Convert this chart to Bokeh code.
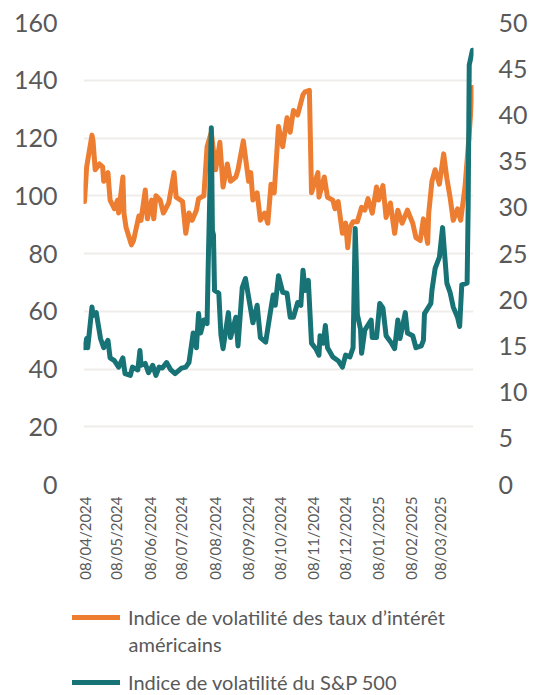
import math
import pandas as pd
from bokeh.plotting import figure
from bokeh.layouts import column
from bokeh.models import (Range1d, LinearAxis, FixedTicker, CustomJSTickFormatter,
                          Legend, LegendItem, Label, ColumnDataSource)
from bokeh.embed import file_html
from bokeh.resources import INLINE

# ---------------- data ----------------
move_dates = [
    "2024-04-08", "2024-04-10", "2024-04-15", "2024-04-16", "2024-04-18", "2024-04-22",
    "2024-04-25", "2024-04-26", "2024-04-30", "2024-05-01", "2024-05-02", "2024-05-06",
    "2024-05-09", "2024-05-10", "2024-05-14", "2024-05-15", "2024-05-17", "2024-05-22",
    "2024-05-24", "2024-05-29", "2024-05-31", "2024-06-04", "2024-06-06", "2024-06-10",
    "2024-06-12", "2024-06-14", "2024-06-18", "2024-06-21", "2024-06-26", "2024-07-01",
    "2024-07-03", "2024-07-09", "2024-07-12", "2024-07-15", "2024-07-18", "2024-07-22",
    "2024-07-24", "2024-07-29", "2024-08-01", "2024-08-05", "2024-08-09", "2024-08-13",
    "2024-08-16", "2024-08-20", "2024-08-23", "2024-08-28", "2024-08-30", "2024-09-04",
    "2024-09-09", "2024-09-11", "2024-09-13", "2024-09-17", "2024-09-20", "2024-09-24",
    "2024-09-27", "2024-09-30", "2024-10-03", "2024-10-07", "2024-10-11", "2024-10-15",
    "2024-10-18", "2024-10-21", "2024-10-25", "2024-10-30", "2024-11-01", "2024-11-05",
    "2024-11-07", "2024-11-13", "2024-11-14", "2024-11-19", "2024-11-22", "2024-11-27",
    "2024-11-29", "2024-12-02", "2024-12-06", "2024-12-09", "2024-12-11", "2024-12-13",
    "2024-12-16", "2024-12-20", "2024-12-24", "2024-12-27", "2024-12-30", "2025-01-03",
    "2025-01-07", "2025-01-09", "2025-01-13", "2025-01-16", "2025-01-20", "2025-01-24",
    "2025-01-27", "2025-01-31", "2025-02-05", "2025-02-10", "2025-02-13", "2025-02-17",
    "2025-02-20", "2025-02-24", "2025-02-25", "2025-02-28", "2025-03-03", "2025-03-07",
    "2025-03-11", "2025-03-14", "2025-03-17", "2025-03-20", "2025-03-24", "2025-03-27",
    "2025-03-31", "2025-04-04", "2025-04-07",
]
move_values = [
    98, 110, 121, 119, 109, 111,
    110, 105, 108, 103, 98.5, 95.5,
    98.5, 94, 106.5, 94, 89, 83,
    84.5, 93, 91.5, 102, 92, 98.5,
    92, 100, 98.5, 94, 97.5, 108,
    99.5, 98, 87, 94, 91.5, 95,
    99, 100, 117, 122, 109, 118.5,
    103, 111, 105, 106.5, 109, 119,
    105, 108, 98.5, 101, 91.5, 94,
    90.5, 104, 101, 124, 117, 127,
    122, 129.5, 128, 135, 136, 136.5,
    101, 108, 99.5, 106.5, 99.5, 98.5,
    95.5, 98, 87, 90.5, 82, 89,
    91, 91, 96, 95, 99, 94,
    103, 98.5, 103.5, 92.5, 97.5, 87,
    95, 90.5, 95, 90.5, 85.5, 84.5,
    92, 83.5, 94, 105, 109, 104,
    114.5, 106, 99.5, 91.5, 95.5, 91.5,
    103, 121.5, 137.5,
]

vix_dates = [
    "2024-04-08", "2024-04-10", "2024-04-11", "2024-04-15", "2024-04-16", "2024-04-19",
    "2024-04-23", "2024-04-26", "2024-04-30", "2024-05-02", "2024-05-06", "2024-05-10",
    "2024-05-14", "2024-05-16", "2024-05-21", "2024-05-23", "2024-05-28", "2024-05-30",
    "2024-05-31", "2024-06-04", "2024-06-07", "2024-06-11", "2024-06-14", "2024-06-17",
    "2024-06-20", "2024-06-24", "2024-06-28", "2024-07-02", "2024-07-08", "2024-07-12",
    "2024-07-15", "2024-07-19", "2024-07-22", "2024-07-24", "2024-07-26", "2024-07-29",
    "2024-08-01", "2024-08-02", "2024-08-05", "2024-08-06", "2024-08-07", "2024-08-08",
    "2024-08-12", "2024-08-14", "2024-08-16", "2024-08-21", "2024-08-23", "2024-08-28",
    "2024-08-30", "2024-09-03", "2024-09-06", "2024-09-11", "2024-09-13", "2024-09-17",
    "2024-09-20", "2024-09-25", "2024-09-27", "2024-09-30", "2024-10-02", "2024-10-04",
    "2024-10-07", "2024-10-11", "2024-10-15", "2024-10-18", "2024-10-21", "2024-10-25",
    "2024-10-28", "2024-10-30", "2024-11-01", "2024-11-04", "2024-11-07", "2024-11-11",
    "2024-11-14", "2024-11-15", "2024-11-18", "2024-11-20", "2024-11-22", "2024-11-27",
    "2024-12-02", "2024-12-06", "2024-12-09", "2024-12-13", "2024-12-16", "2024-12-18",
    "2024-12-19", "2024-12-20", "2024-12-23", "2024-12-24", "2024-12-27", "2025-01-02",
    "2025-01-03", "2025-01-07", "2025-01-10", "2025-01-13", "2025-01-16", "2025-01-21",
    "2025-01-24", "2025-01-27", "2025-01-29", "2025-02-03", "2025-02-05", "2025-02-10",
    "2025-02-13", "2025-02-18", "2025-02-20", "2025-02-21", "2025-02-27", "2025-02-28",
    "2025-03-03", "2025-03-07", "2025-03-10", "2025-03-14", "2025-03-17", "2025-03-20",
    "2025-03-24", "2025-03-26", "2025-03-28", "2025-04-02", "2025-04-03", "2025-04-04",
    "2025-04-07",
]
vix_values = [
    14.8, 15.8, 14.8, 19.2, 18.3, 18.6,
    15.8, 14.8, 15.6, 13.7, 13.4, 12.7,
    13.7, 12.0, 11.8, 12.7, 12.4, 14.5,
    12.9, 13.1, 12.1, 12.9, 11.8, 12.7,
    12.6, 13.2, 12.4, 12.0, 12.6, 12.7,
    13.2, 16.4, 14.8, 18.5, 16.4, 17.8,
    17.4, 23.4, 38.6, 27.5, 27.0, 21.0,
    20.7, 16.2, 14.7, 18.6, 15.9, 18.1,
    15.0, 21.3, 22.3, 18.9, 17.5, 19.4,
    15.9, 15.4, 16.9, 19.1, 20.5, 19.4,
    22.6, 20.8, 20.7, 18.1, 18.1, 19.7,
    19.4, 23.2, 21.0, 22.1, 15.3, 14.7,
    14.0, 16.1, 15.3, 17.2, 14.8, 13.8,
    13.4, 12.7, 14.0, 13.8, 14.8, 27.7,
    24.0, 18.4, 16.8, 14.2, 16.7, 17.8,
    15.9, 15.9, 19.6, 19.1, 16.1, 15.3,
    14.7, 17.8, 15.8, 18.6, 16.4, 16.1,
    14.8, 15.0, 15.6, 18.5, 19.6, 21.0,
    23.4, 24.6, 27.8, 21.8, 20.8, 19.2,
    18.1, 17.1, 21.6, 21.8, 30.0, 45.4,
    47.0,
]

tick_dates = [
    "2024-04-08", "2024-05-08", "2024-06-08", "2024-07-08", "2024-08-08", "2024-09-08",
    "2024-10-08", "2024-11-08", "2024-12-08", "2025-01-08", "2025-02-08", "2025-03-08",
]
left_ticks = [0, 20, 40, 60, 80, 100, 120, 140, 160]
right_ticks = [0, 5, 10, 15, 20, 25, 30, 35, 40, 45, 50]

label_move = "Indice de volatilité des taux d’intérêt"
label_move_2 = "américains"
label_vix = "Indice de volatilité du S&P 500"

# ---------------- style ----------------
FONT = "Lato"
GRAY = "#595959"
ORANGE = "#ED7D31"
TEAL = "#177375"
GRID = "#EFEDEA"
LW = 5
LEG_FS = "20px"

move_src = ColumnDataSource(dict(x=pd.to_datetime(move_dates), y=move_values))
vix_src = ColumnDataSource(dict(x=pd.to_datetime(vix_dates), y=vix_values))

p = figure(width=536, height=595, x_axis_type="datetime",
           output_backend="svg", toolbar_location=None,
           x_range=Range1d(pd.Timestamp("2024-04-07 01:00"), pd.Timestamp("2025-04-08")),
           y_range=Range1d(0, 160),
           min_border_left=83, min_border_right=63,
           min_border_top=22, min_border_bottom=111)
p.extra_y_ranges = {"right": Range1d(0, 50)}
p.outline_line_color = None
p.background_fill_color = "white"
p.border_fill_color = "white"

p.line("x", "y", source=move_src, line_color=ORANGE, line_width=LW,
       line_join="round", line_cap="round")
p.line("x", "y", source=vix_src, line_color=TEAL, line_width=LW,
       line_join="round", line_cap="round", y_range_name="right")

# left axis
ya = p.yaxis[0]
ya.ticker = FixedTicker(ticks=left_ticks)
ya.major_label_standoff = 26

# right axis
ra = LinearAxis(y_range_name="right", ticker=FixedTicker(ticks=right_ticks))
ra.major_label_standoff = 25
p.add_layout(ra, "right")

for ax in (ya, ra):
    ax.axis_line_color = None
    ax.major_tick_line_color = None
    ax.minor_tick_line_color = None
    ax.major_tick_out = 0
    ax.major_tick_in = 0
    ax.major_label_text_font = FONT
    ax.major_label_text_font_size = "25px"
    ax.major_label_text_color = GRAY

xa = p.xaxis[0]
xa.ticker = FixedTicker(ticks=[pd.Timestamp(d).value / 1e6 for d in tick_dates])
xa.formatter = CustomJSTickFormatter(code="""
const d = new Date(tick);
const dd = String(d.getUTCDate()).padStart(2, '0');
const mm = String(d.getUTCMonth() + 1).padStart(2, '0');
return dd + '/' + mm + '/' + d.getUTCFullYear();
""")
xa.major_label_orientation = math.pi / 2
xa.axis_line_color = None
xa.major_tick_line_color = None
xa.minor_tick_line_color = None
xa.major_tick_out = 0
xa.major_tick_in = 0
xa.major_label_standoff = 12
xa.major_label_text_font = FONT
xa.major_label_text_font_size = "15px"
xa.major_label_text_color = GRAY

p.xgrid.visible = False
p.ygrid.grid_line_color = GRID
p.ygrid.grid_line_width = 2

# ---------------- legend strip (separate figure below the chart) ----------------
lg = figure(width=536, height=100, output_backend="svg", toolbar_location=None,
            x_axis_location=None, y_axis_location=None, min_border=0,
            x_range=Range1d(0, 1), y_range=Range1d(0, 1))
lg.outline_line_color = None
lg.xgrid.visible = False
lg.ygrid.visible = False
# the series are out of this strip's view; the renderers only give the legend samples
k_move = lg.line("x", "y", source=move_src, line_color=ORANGE, line_width=LW, line_cap="round")
k_vix = lg.line("x", "y", source=vix_src, line_color=TEAL, line_width=LW, line_cap="round")

for fig in (p, lg):
    if "frame_align" in fig.properties():
        fig.frame_align = False

legend = Legend(
    items=[LegendItem(label=label_move, renderers=[k_move]),
           LegendItem(label=label_vix, renderers=[k_vix])],
    orientation="vertical", location=(72, 0),
    padding=0, margin=0, spacing=39,
    border_line_color=None, background_fill_alpha=0,
    glyph_width=48, glyph_height=26, label_height=26, label_standoff=8,
    label_text_font=FONT, label_text_font_size=LEG_FS, label_text_color=GRAY,
)
lg.add_layout(legend)
lg.add_layout(Label(x=128, y=52, x_units="screen", y_units="screen", text=label_move_2,
                    text_font=FONT, text_font_size=LEG_FS, text_color=GRAY,
                    text_baseline="middle", text_align="left"))

open("out.html", "w").write(file_html(column(p, lg, spacing=0), INLINE))
